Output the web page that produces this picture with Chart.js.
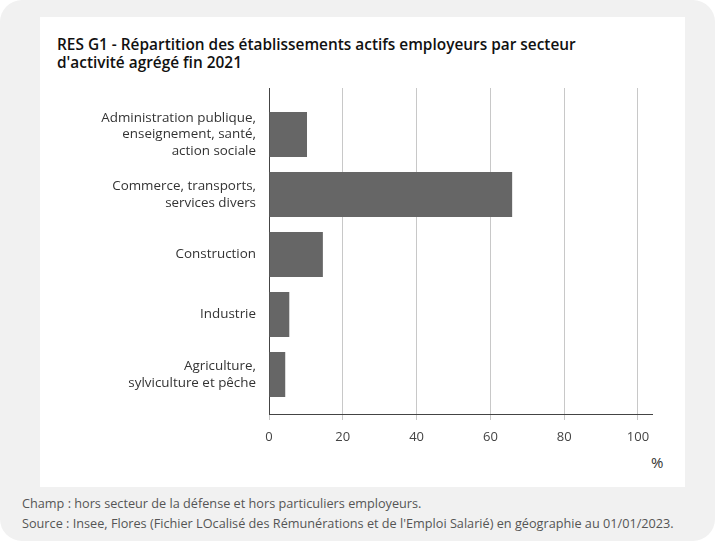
<!DOCTYPE html>
<html lang="fr">
<head>
<meta charset="utf-8">
<script src="https://cdn.jsdelivr.net/npm/chart.js@4.4.0/dist/chart.umd.min.js"></script>
<style>
  html, body { margin: 0; padding: 0; width: 715px; height: 541px; background: #fff; overflow: hidden; font-family: "Open Sans", sans-serif; }
  #frame { position: absolute; left: 0; top: 0; width: 715px; height: 541px; background: #f1f1f1; border-radius: 22px; }
  #panel { position: absolute; left: 40px; top: 17px; width: 645px; height: 470px; background: #fff; }
  #title { position: absolute; left: 57px; top: 36px; font-size: 15.4px; font-weight: 600; line-height: 17.5px; color: #111; white-space: nowrap; }
  #unit { position: absolute; left: 651px; top: 452px; font-size: 15px; color: #333; }
  .note { position: absolute; left: 22px; font-size: 12.7px; line-height: 16px; color: #555; white-space: nowrap; }
  canvas { position: absolute; left: 0; top: 0; }
</style>
</head>
<body>
<div id="frame"></div>
<div id="panel"></div>
<div id="title">RES G1 - Répartition des établissements actifs employeurs par secteur<br>d'activité agrégé fin 2021</div>
<div id="unit">%</div>
<div class="note" style="top:495px">Champ : hors secteur de la défense et hors particuliers employeurs.</div>
<div class="note" style="top:515px">Source : Insee, Flores (Fichier LOcalisé des Rémunérations et de l'Emploi Salarié) en géographie au 01/01/2023.</div>
<canvas id="chart" width="715" height="541"></canvas>
<script>
// Share of active employer establishments by sector, end of 2021 (%)
const sectors = [
  ["Administration publique,", "enseignement, santé,", "action sociale"],
  ["Commerce, transports,", "services divers"],
  "Construction",
  "Industrie",
  ["Agriculture,", "sylviculture et pêche"],
];
const shares = [10.3, 65.9, 14.6, 5.5, 4.4];
const xTicks = [0, 20, 40, 60, 80, 100];

Chart.defaults.font.family = "'Open Sans', sans-serif";
Chart.defaults.color = "#333";

new Chart(document.getElementById("chart"), {
  type: "bar",
  data: {
    datasets: [{
      data: sectors.map((s, i) => ({ x: shares[i], y: i })),
      backgroundColor: "#666666",
      categoryPercentage: 0.75,
      barPercentage: 1,
    }],
  },
  options: {
    indexAxis: "y",
    responsive: false,
    animation: false,
    layout: { padding: { top: 88, right: 63, bottom: 0, left: 0 } },
    plugins: { legend: { display: false }, tooltip: { enabled: false } },
    scales: {
      x: {
        type: "linear",
        min: 0,
        max: 103.8,
        afterBuildTicks: (s) => { s.ticks = xTicks.map((v) => ({ value: v })); },
        afterFit: (s) => { s.height = 127; },
        grid: { color: "#c8c8c8", tickColor: "#c8c8c8", tickLength: 6 },
        border: { color: "#444", width: 1 },
        ticks: { color: "#444", font: { size: 13 }, padding: 9 },
      },
      y: {
        type: "linear",
        reverse: true,
        offset: false,
        min: -0.775,
        max: 4.658,
        afterBuildTicks: (s) => { s.ticks = sectors.map((c, i) => ({ value: i })); },
        afterFit: (s) => { s.width = 269; },
        grid: { display: false, drawTicks: false },
        border: { color: "#444", width: 1 },
        ticks: {
          callback: (v, i) => sectors[i],
          color: "#333",
          font: { size: 13.4, lineHeight: 1.24 },
          padding: 13,
        },
      },
    },
  },
});
</script>
</body>
</html>
